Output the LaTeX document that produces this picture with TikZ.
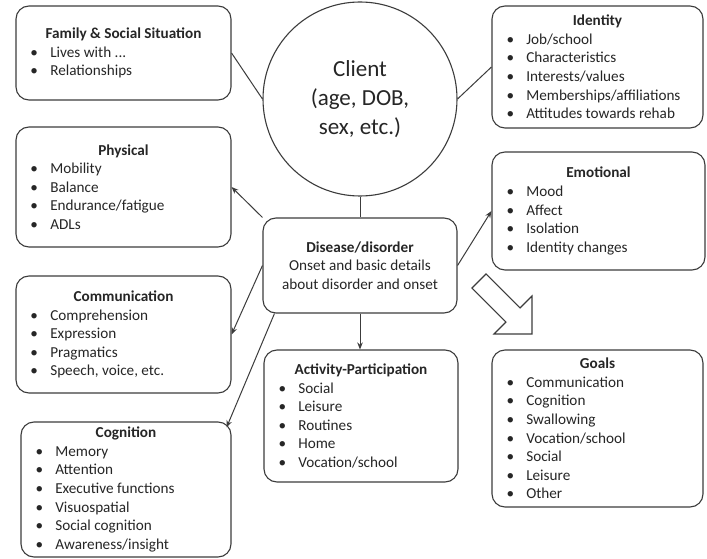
\documentclass[tikz,border=0pt]{standalone}
\usepackage{fontspec}
\setmainfont{Carlito}
\usetikzlibrary{arrows.meta}

\definecolor{ink}{HTML}{3C3C3C}
\definecolor{txt}{HTML}{262626}

% bullet item: bullet indented from the box edge, text after a fixed gap
\newcommand{\itm}[1]{\par\hspace*{14.5pt}\makebox[19.8pt][l]{\textbullet}#1}
% box body: centred bold title, then left-aligned bullet items
\newcommand{\boxbody}[3]{\parbox{#1}{\centering\textbf{#2}\par\raggedright #3}}

\tikzset{
  infobox/.style={draw=ink, line width=1.1pt, rounded corners=13pt, inner sep=0pt,
    text=txt, font=\fontsize{15.2}{18.6}\selectfont, fill=white},
  link/.style={draw=ink, line width=1pt},
  arr/.style={link, -{Stealth[length=7pt,width=5.5pt]}},
}

\begin{document}
\begin{tikzpicture}[x=1pt,y=-1pt]
\useasboundingbox[fill=white] (0,0) rectangle (707,559);

% central client circle
\node[circle, draw=ink, line width=1.1pt, minimum size=194pt, inner sep=0pt, text=txt,
      align=center, font=\fontsize{23}{29}\selectfont] (client) at (360,99)
  {Client\\(age, DOB,\\sex, etc.)};

% left column
\node[infobox, minimum width=215pt, minimum height=94pt] (family) at (123.5,53)
  {\boxbody{215pt}{Family \& Social Situation}{\itm{Lives with ...}\itm{Relationships}}};
\node[infobox, minimum width=215pt, minimum height=120pt] (physical) at (123.5,187)
  {\boxbody{215pt}{Physical}{\itm{Mobility}\itm{Balance}\itm{Endurance/fatigue}\itm{ADLs}}};
\node[infobox, minimum width=215pt, minimum height=117pt] (comm) at (123.5,334.5)
  {\boxbody{215pt}{Communication}{\itm{Comprehension}\itm{Expression}\itm{Pragmatics}\itm{Speech, voice, etc.}}};
\node[infobox, minimum width=210pt, minimum height=135pt] (cog) at (126,489.5)
  {\boxbody{210pt}{Cognition}{\itm{Memory}\itm{Attention}\itm{Executive functions}\itm{Visuospatial}\itm{Social cognition}\itm{Awareness/insight}}};

% right column
\node[infobox, minimum width=211pt, minimum height=122pt] (identity) at (597.5,67)
  {\boxbody{211pt}{Identity}{\itm{Job/school}\itm{Characteristics}\itm{Interests/values}\itm{Memberships/affiliations}\itm{Attitudes towards rehab}}};
\node[infobox, minimum width=213pt, minimum height=118pt] (emotional) at (598.5,211)
  {\boxbody{213pt}{Emotional}{\itm{Mood}\itm{Affect}\itm{Isolation}\itm{Identity changes}}};
\node[infobox, minimum width=211pt, minimum height=157pt] (goals) at (597.5,428.5)
  {\boxbody{211pt}{Goals}{\itm{Communication}\itm{Cognition}\itm{Swallowing}\itm{Vocation/school}\itm{Social}\itm{Leisure}\itm{Other}}};

% middle column
\node[infobox, minimum width=194pt, minimum height=95pt, align=center] (disease) at (360,265.5)
  {\textbf{Disease/disorder}\\Onset and basic details\\about disorder and onset};
\node[infobox, minimum width=194pt, minimum height=132pt] (activity) at (361,416)
  {\boxbody{194pt}{Activity-Participation}{\itm{Social}\itm{Leisure}\itm{Routines}\itm{Home}\itm{Vocation/school}}};

% plain links to the client
\draw[link] (family.east) -- (client.west);
\draw[link] (client.east) -- (identity.west);
\draw[link] (client.south) -- (disease.north);

% arrows out of the disease box
\draw[arr] (disease.north west) -- (physical.east);
\draw[arr] (disease.east) -- (emotional.west);
\draw[arr] (disease.west) -- (comm.east);
\draw[arr] ([xshift=12pt]disease.south west) -- ([xshift=-5pt,yshift=-6pt]cog.north east);
\draw[arr] (disease.south) -- (disease.south |- activity.north);

% hollow block arrow leading to the goals
\draw[ink, line width=1.1pt, line join=miter, fill=white]
  (486.1,273.9) -- (520.1,307.9) -- (532,296) -- (532,334) -- (494,334)
  -- (505.9,322.1) -- (471.9,288.1) -- cycle;
\end{tikzpicture}
\end{document}
